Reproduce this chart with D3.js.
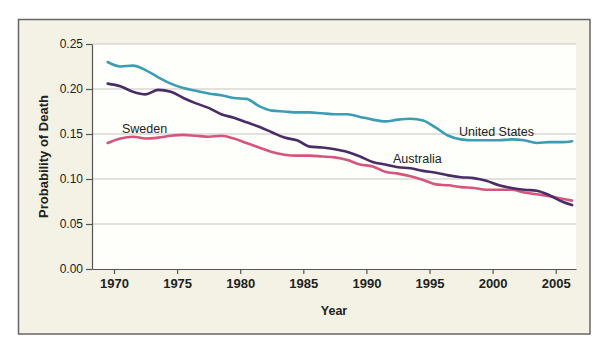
<!DOCTYPE html>
<html>
<head>
<meta charset="utf-8">
<script src="https://cdn.jsdelivr.net/npm/d3@7"></script>
<style>
  html, body { margin: 0; padding: 0; background: #fff; }
  svg { display: block; font-family: "Liberation Sans", Arial, sans-serif; }
</style>
</head>
<body>
<svg id="chart" width="610" height="353"></svg>
<script>
const years = [1969.5, 1970.5, 1971.5, 1972.5, 1973.5, 1974.5, 1975.5, 1976.5, 1977.5, 1978.5,
  1979.5, 1980.5, 1981.5, 1982.5, 1983.5, 1984.5, 1985.5, 1986.5, 1987.5, 1988.5,
  1989.5, 1990.5, 1991.5, 1992.5, 1993.5, 1994.5, 1995.5, 1996.5, 1997.5, 1998.5,
  1999.5, 2000.5, 2001.5, 2002.5, 2003.5, 2004.5, 2005.5, 2006.3];

const unitedStates = [0.230, 0.225, 0.226, 0.221, 0.213, 0.206, 0.201, 0.198, 0.195, 0.193,
  0.190, 0.189, 0.181, 0.176, 0.175, 0.174, 0.174, 0.173, 0.172, 0.172,
  0.169, 0.166, 0.164, 0.166, 0.167, 0.165, 0.157, 0.148, 0.144, 0.143,
  0.143, 0.143, 0.144, 0.143, 0.140, 0.141, 0.141, 0.142];

const australia = [0.206, 0.203, 0.197, 0.194, 0.199, 0.197, 0.190, 0.184, 0.179, 0.172,
  0.168, 0.163, 0.158, 0.152, 0.146, 0.143, 0.136, 0.135, 0.133, 0.130,
  0.125, 0.119, 0.116, 0.113, 0.112, 0.109, 0.107, 0.104, 0.102, 0.101,
  0.098, 0.093, 0.090, 0.088, 0.087, 0.082, 0.075, 0.071];

const sweden = [0.140, 0.145, 0.147, 0.145, 0.146, 0.148, 0.149, 0.148, 0.147, 0.148,
  0.145, 0.140, 0.135, 0.130, 0.127, 0.126, 0.126, 0.125, 0.124, 0.121,
  0.116, 0.114, 0.108, 0.106, 0.103, 0.099, 0.094, 0.093, 0.091, 0.090,
  0.088, 0.088, 0.088, 0.085, 0.083, 0.081, 0.078, 0.076];

const xTicks = [1970, 1975, 1980, 1985, 1990, 1995, 2000, 2005];
const yTicks = [0.00, 0.05, 0.10, 0.15, 0.20, 0.25];

const series = [
  { name: "United States", values: unitedStates, color: "#3a9db4", label: [459, 136] },
  { name: "Sweden", values: sweden, color: "#d5557c", label: [122, 133] },
  { name: "Australia", values: australia, color: "#4a2c66", label: [393, 163] }
];

const svg = d3.select("#chart");
const box = { left: 18.5, top: 19.5, right: 590, bottom: 334 };
const plot = { left: 92, top: 44, right: 576, bottom: 269 };

// cream panel with frame
svg.append("rect")
  .attr("x", box.left).attr("y", box.top)
  .attr("width", box.right - box.left).attr("height", box.bottom - box.top)
  .attr("fill", "#f4f2e4").attr("stroke", "#666").attr("stroke-width", 1.5);

svg.append("rect")
  .attr("x", plot.left).attr("y", plot.top)
  .attr("width", plot.right - plot.left).attr("height", plot.bottom - plot.top)
  .attr("fill", "#fefefa");

const x = d3.scaleLinear()
  .domain([1970 - 22 / 12.62, 1970 + (576 - 114) / 12.62])
  .range([plot.left, plot.right]);
const y = d3.scaleLinear().domain([0, 0.25]).range([plot.bottom, plot.top]);

// gridlines
svg.append("g")
  .selectAll("line")
  .data(yTicks.filter((d) => d > 0))
  .join("line")
  .attr("x1", plot.left).attr("x2", plot.right)
  .attr("y1", (d) => y(d)).attr("y2", (d) => y(d))
  .attr("stroke", "#d9d7d1").attr("stroke-width", 1.3);

const yAxis = svg.append("g")
  .attr("transform", `translate(${plot.left},0)`)
  .call(d3.axisLeft(y).tickValues(yTicks).tickFormat(d3.format(".2f")).tickSize(6).tickSizeOuter(0));
yAxis.select(".domain").attr("stroke", "#555").attr("stroke-width", 1.2);
yAxis.selectAll(".tick line").attr("stroke", "#555").attr("stroke-width", 1.2);
yAxis.selectAll(".tick text")
  .attr("x", -9).attr("font-size", 12).attr("fill", "#222")
  .attr("font-family", "Liberation Sans, Arial, sans-serif");

const xAxis = svg.append("g")
  .attr("transform", `translate(0,${plot.bottom})`)
  .call(d3.axisBottom(x).tickValues(xTicks).tickFormat(d3.format("d")).tickSize(5).tickSizeOuter(0));
xAxis.select(".domain").attr("stroke", "#555").attr("stroke-width", 1.2);
xAxis.selectAll(".tick line").attr("stroke", "#555").attr("stroke-width", 1.2);
xAxis.selectAll(".tick text")
  .attr("y", 10).attr("font-size", 13).attr("font-weight", "bold").attr("fill", "#222")
  .attr("font-family", "Liberation Sans, Arial, sans-serif");

const line = d3.line()
  .x((d, i) => x(years[i]))
  .y((d) => y(d))
  .curve(d3.curveMonotoneX);

for (const s of series) {
  svg.append("path")
    .datum(s.values)
    .attr("fill", "none")
    .attr("stroke", s.color)
    .attr("stroke-width", 2.6)
    .attr("stroke-linejoin", "round")
    .attr("stroke-linecap", "round")
    .attr("d", line);
}

svg.append("g")
  .selectAll("text")
  .data(series)
  .join("text")
  .attr("x", (d) => d.label[0])
  .attr("y", (d) => d.label[1])
  .attr("font-size", 12.5)
  .attr("fill", "#222")
  .text((d) => d.name);

svg.append("text")
  .attr("x", (plot.left + plot.right) / 2)
  .attr("y", 315)
  .attr("text-anchor", "middle")
  .attr("font-size", 12.5)
  .attr("font-weight", "bold")
  .attr("fill", "#222")
  .text("Year");

const yMid = (plot.top + plot.bottom) / 2;
svg.append("text")
  .attr("transform", `translate(47.5,${yMid}) rotate(-90)`)
  .attr("text-anchor", "middle")
  .attr("font-size", 13)
  .attr("font-weight", "bold")
  .attr("fill", "#222")
  .text("Probability of Death");
</script>
</body>
</html>
